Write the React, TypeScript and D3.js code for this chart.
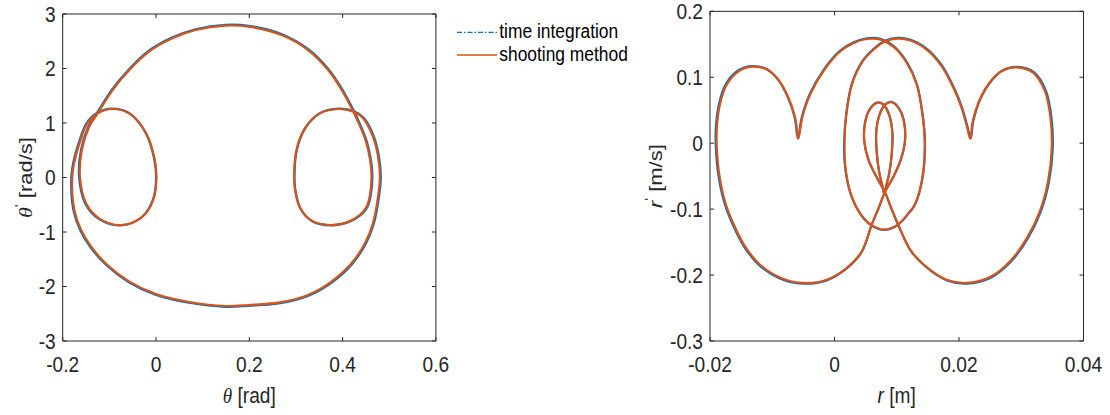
import React from "react";
import * as d3 from "d3";

const W = 1110;
const H = 415;
const SX = 0.87; // horizontal squeeze of the whole figure
const ux = (px: number) => px / SX;

const FONT = "'Liberation Sans', Arial, Helvetica, sans-serif";
const INK = "#262626";
const BLUE = "#0072BD";
const ORANGE = "#D95319";

// ---- ticks ----
const thetaTicks = [-0.2, 0, 0.2, 0.4, 0.6];
const thetaDotTicks = [-3, -2, -1, 0, 1, 2, 3];
const rTicks = [-0.02, 0, 0.02, 0.04];
const rDotTicks = [-0.3, -0.2, -0.1, 0, 0.1, 0.2];
const legendLabels = ["time integration", "shooting method"];

// ---- left panel: (theta, theta') orbit ----
const thetaUpperArc = [
  [-0.125, 1.177], [-0.093, 1.605], [-0.057, 1.972], [-0.015, 2.309], [0.035, 2.553],
  [0.085, 2.706], [0.149, 2.786], [0.198, 2.768], [0.269, 2.615], [0.326, 2.339],
  [0.369, 1.972], [0.398, 1.605], [0.423, 1.208],
];
const thetaRightLoop = [
  [0.433, 1.024], [0.449, 0.688], [0.459, 0.321], [0.462, 0.015], [0.458, -0.352],
  [0.453, -0.505], [0.444, -0.627], [0.412, -0.81], [0.373, -0.872], [0.333, -0.792],
  [0.309, -0.566], [0.298, -0.229], [0.296, 0.015], [0.301, 0.505], [0.319, 0.902],
  [0.351, 1.177], [0.391, 1.257], [0.423, 1.208],
];
const thetaOuterRight = [
  [0.444, 1.086], [0.465, 0.749], [0.476, 0.382], [0.48, 0.015], [0.476, -0.352],
  [0.465, -0.841], [0.448, -1.208], [0.419, -1.575], [0.376, -1.911], [0.326, -2.156],
  [0.262, -2.297], [0.198, -2.34],
];
const thetaLowerLeft = [
  [0.149, -2.358], [0.071, -2.284], [-0.0004, -2.138], [-0.057, -1.911], [-0.104, -1.605],
  [-0.139, -1.269], [-0.162, -0.933], [-0.175, -0.596], [-0.18, -0.107], [-0.177, 0.199],
  [-0.164, 0.627], [-0.147, 0.994], [-0.125, 1.177],
];
const thetaLeftLoop = [
  [-0.093, 1.257], [-0.057, 1.177], [-0.025, 0.872], [-0.0075, 0.505], [0.001, 0.015],
  [-0.006, -0.413], [-0.029, -0.719], [-0.075, -0.872], [-0.122, -0.749], [-0.15, -0.474],
  [-0.163, 0.015], [-0.159, 0.505], [-0.143, 0.933],
];

// ---- right panel: (r, r') orbit ----
const rArches = [
  [-0.0058, 0.007], [-0.0052, 0.038], [-0.0039, 0.074], [-0.0018, 0.109], [0.0009, 0.139],
  [0.0031, 0.152], [0.0052, 0.158], [0.0074, 0.157], [0.0095, 0.146], [0.0116, 0.122],
  [0.0132, 0.089], [0.0141, 0.045], [0.0145, 0.001], [0.0141, -0.053], [0.0129, -0.093],
  [0.0119, -0.106], [0.0101, -0.124], [0.008, -0.131], [0.0059, -0.124], [0.0041, -0.106],
  [0.0025, -0.073], [0.0017, -0.032], [0.0016, 0.003], [0.0019, 0.043], [0.0028, 0.089],
  [0.0044, 0.122], [0.0063, 0.142], [0.0082, 0.1545], [0.0101, 0.1585], [0.0121, 0.156],
  [0.0148, 0.142], [0.0172, 0.117], [0.0191, 0.084], [0.0204, 0.054], [0.0212, 0.028],
  [0.0218, 0.007],
];
const rRightLobe = [
  [0.0222, 0.033], [0.0231, 0.061], [0.0247, 0.089], [0.0268, 0.109], [0.0292, 0.115],
  [0.0319, 0.107], [0.0338, 0.079], [0.0347, 0.038], [0.0349, -0.007], [0.0343, -0.058],
  [0.033, -0.103], [0.0309, -0.144], [0.0282, -0.179], [0.025, -0.203], [0.0212, -0.212],
  [0.018, -0.207], [0.0148, -0.188], [0.0122, -0.162], [0.0103, -0.125], [0.0091, -0.098],
  [0.0081, -0.074],
];
const rInnerLoops = [
  [0.0068, -0.052], [0.0055, -0.026], [0.0048, 0.002], [0.0049, 0.03], [0.0056, 0.05],
  [0.0068, 0.061], [0.0079, 0.058], [0.0088, 0.042], [0.0093, 0.015], [0.0092, -0.015],
  [0.0088, -0.045], [0.0083, -0.065], [0.008, -0.077], [0.0077, -0.065], [0.0072, -0.045],
  [0.0068, -0.015], [0.0067, 0.015], [0.0072, 0.042], [0.0081, 0.058], [0.0092, 0.062],
  [0.0105, 0.05], [0.0112, 0.03], [0.0113, 0.002], [0.0106, -0.026], [0.0094, -0.052],
  [0.0081, -0.074],
];
const rLeftLobe = [
  [0.0071, -0.098], [0.006, -0.123], [0.0044, -0.164], [0.002, -0.189], [-0.0012, -0.207],
  [-0.005, -0.212], [-0.0087, -0.204], [-0.012, -0.184], [-0.0144, -0.156], [-0.0162, -0.123],
  [-0.0176, -0.088], [-0.0185, -0.048], [-0.0189, -0.007], [-0.0189, 0.023], [-0.0184, 0.059],
  [-0.0173, 0.089], [-0.0154, 0.109], [-0.0133, 0.116], [-0.0109, 0.112], [-0.009, 0.096],
  [-0.0074, 0.069], [-0.0063, 0.038],
];

const thetaOrbit = [
  ...thetaUpperArc, ...thetaRightLoop, ...thetaOuterRight, ...thetaLowerLeft, ...thetaLeftLoop,
];
const rOrbit = [...rArches, ...rRightLobe, ...rInnerLoops, ...rLeftLobe];

// ---- layout (screen px) ----
const L = { left: 62.7, right: 435.9, top: 14, bottom: 341 };
const R = { left: 710, right: 1083.5, top: 11.3, bottom: 341 };

const xL = d3.scaleLinear().domain([-0.2, 0.6]).range([ux(L.left), ux(L.right)]);
const yL = d3.scaleLinear().domain([-3, 3]).range([L.bottom, L.top]);
const xR = d3.scaleLinear().domain([-0.02, 0.04]).range([ux(R.left), ux(R.right)]);
const yR = d3.scaleLinear().domain([-0.3, 0.2]).range([R.bottom, R.top]);

const TICK = 4;

function Axes({ box, x, y, xTicks, yTicks }: any) {
  const l = ux(box.left), r = ux(box.right);
  return (
    <g stroke={INK} strokeWidth={1} fill="none">
      {xTicks.map((t: number) => (
        <g key={"x" + t}>
          <line x1={x(t)} x2={x(t)} y1={box.bottom} y2={box.bottom - TICK} vectorEffect="non-scaling-stroke" />
          <line x1={x(t)} x2={x(t)} y1={box.top} y2={box.top + TICK} vectorEffect="non-scaling-stroke" />
          <text x={x(t)} y={372} textAnchor="middle" fill={INK} stroke="none" fontSize={22} fontFamily={FONT}>
            {String(t)}
          </text>
        </g>
      ))}
      {yTicks.map((t: number) => (
        <g key={"y" + t}>
          <line x1={l} x2={l + ux(TICK)} y1={y(t)} y2={y(t)} vectorEffect="non-scaling-stroke" />
          <line x1={r} x2={r - ux(TICK)} y1={y(t)} y2={y(t)} vectorEffect="non-scaling-stroke" />
          <text x={l - ux(7)} y={y(t)} dy="0.36em" textAnchor="end" fill={INK} stroke="none" fontSize={22} fontFamily={FONT}>
            {String(t)}
          </text>
        </g>
      ))}
      <rect x={l} y={box.top} width={r - l} height={box.bottom - box.top} vectorEffect="non-scaling-stroke" />
    </g>
  );
}

function Orbit({ data, x, y, cx, cy }: any) {
  const gen = d3
    .line<number[]>()
    .x((d) => x(d[0]))
    .y((d) => y(d[1]))
    .curve(d3.curveCatmullRomClosed.alpha(0.5));
  const d = gen(data) || "";
  const k = 1.006;
  return (
    <g fill="none" strokeLinejoin="round">
      <path
        d={d}
        stroke={BLUE}
        strokeWidth={2.2}
        vectorEffect="non-scaling-stroke"
        transform={`translate(${cx},${cy}) scale(${k}) translate(${-cx},${-cy})`}
      />
      <path d={d} stroke={ORANGE} strokeWidth={2.2} vectorEffect="non-scaling-stroke" />
    </g>
  );
}

export default function App() {
  return (
    <svg
      width={W}
      height={H}
      style={{ position: "absolute", left: 0, top: 0, background: "#fff" }}
      fontFamily={FONT}
    >
      <rect x={0} y={0} width={W} height={H} fill="#fff" />
      <g transform={`scale(${SX},1)`}>
        {/* left panel */}
        <Orbit data={thetaOrbit} x={xL} y={yL} cx={xL(0.15)} cy={yL(0.2)} />
        <Axes box={L} x={xL} y={yL} xTicks={thetaTicks} yTicks={thetaDotTicks} />
        <text x={ux((L.left + L.right) / 2)} y={403} textAnchor="middle" fontSize={22} fill={INK}>
          <tspan fontFamily="'Liberation Serif', 'DejaVu Serif', serif" fontStyle="italic">θ</tspan>
          <tspan> [rad]</tspan>
        </text>
        <text
          transform={`translate(${ux(31.5)},${(L.top + L.bottom) / 2}) rotate(-90)`}
          textAnchor="middle"
          fontSize={22}
          fill={INK}
        >
          <tspan fontFamily="'Liberation Serif', 'DejaVu Serif', serif" fontStyle="italic">θ</tspan>
          <tspan dy={-9} fontSize={15}>'</tspan>
          <tspan dy={9}> [rad/s]</tspan>
        </text>

        {/* legend */}
        <g fontSize={20} fill="#000">
          <line x1={ux(457)} x2={ux(497)} y1={32.3} y2={32.3} stroke={BLUE} strokeWidth={1.3} strokeDasharray="5,2,1.5,2" vectorEffect="non-scaling-stroke" />
          <text x={ux(499.3)} y={38.5}>{legendLabels[0]}</text>
          <line x1={ux(457)} x2={ux(497)} y1={55} y2={55} stroke={ORANGE} strokeWidth={1.3} vectorEffect="non-scaling-stroke" />
          <text x={ux(499.3)} y={61.2}>{legendLabels[1]}</text>
        </g>

        {/* right panel */}
        <Orbit data={rOrbit} x={xR} y={yR} cx={xR(0.008)} cy={yR(-0.03)} />
        <Axes box={R} x={xR} y={yR} xTicks={rTicks} yTicks={rDotTicks} />
        <text x={ux((R.left + R.right) / 2)} y={403} textAnchor="middle" fontSize={22} fill={INK}>
          <tspan fontStyle="italic">r</tspan>
          <tspan> [m]</tspan>
        </text>
        <text
          transform={`translate(${ux(662)},${(R.top + R.bottom) / 2}) rotate(-90)`}
          textAnchor="middle"
          fontSize={22}
          fill={INK}
        >
          <tspan fontStyle="italic">r</tspan>
          <tspan dy={-9} fontSize={15}>'</tspan>
          <tspan dy={9}> [m/s]</tspan>
        </text>
      </g>
    </svg>
  );
}
